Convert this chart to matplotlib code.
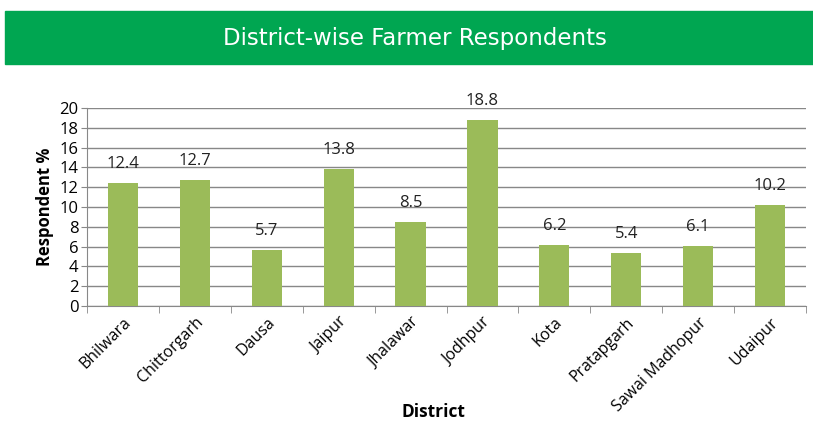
import matplotlib
matplotlib.use("Agg")
from matplotlib import pyplot as plt
from matplotlib.patches import Rectangle
import numpy as np

districts = ["Bhilwara", "Chittorgarh", "Dausa", "Jaipur", "Jhalawar",
             "Jodhpur", "Kota", "Pratapgarh", "Sawai Madhopur", "Udaipur"]
respondents = [12.4, 12.7, 5.7, 13.8, 8.5, 18.8, 6.2, 5.4, 6.1, 10.2]
yticks = [0, 2, 4, 6, 8, 10, 12, 14, 16, 18, 20]

plt.rcParams['font.family'] = ['Open Sans', 'DejaVu Sans']

W, H = 813, 436
fig = plt.figure(figsize=(W / 100, H / 100), dpi=100)

# green title banner
fig.patches.append(Rectangle((5 / W, 1 - 64 / H), 1 - 5 / W, 53 / H,
                             transform=fig.transFigure, color="#00A651", zorder=0))
fig.text(415 / W, 1 - 39 / H, "District-wise Farmer Respondents", color="white",
         fontsize=16.5, family=['DejaVu Sans'], ha="center", va="center")

ax = fig.add_axes([87 / W, 1 - 306 / H, (806 - 87) / W, (306 - 108) / H])
x = np.arange(len(districts))
ax.bar(x, respondents, width=0.42, color="#9BBB59", zorder=3)
for xi, v in zip(x, respondents):
    ax.text(xi, v + 1.1, f"{v}", ha="center", va="bottom", fontsize=12, color="#222222")

ax.set_xlim(-0.5, len(districts) - 0.5)
ax.set_ylim(0, 20)
ax.set_yticks(yticks)
ax.tick_params(axis="y", labelsize=12, length=4, color="#888888", pad=2)
ax.yaxis.grid(True, color="#888888", linewidth=1, zorder=0)
ax.set_axisbelow(True)

ax.set_xticks(x)
ax.set_xticklabels(districts, rotation=45, ha="right", rotation_mode="anchor", fontsize=11.5)
ax.tick_params(axis="x", length=0, pad=6)
ax.set_xticks(np.arange(-0.5, len(districts)), minor=True)
ax.tick_params(axis="x", which="minor", length=5, color="#888888")

for s in ["top", "right"]:
    ax.spines[s].set_visible(False)
for s in ["left", "bottom"]:
    ax.spines[s].set_color("#888888")

ax.set_ylabel("Respondent %", fontsize=12, fontweight="bold", labelpad=4)
fig.text(433 / W, 1 - 412 / H, "District", fontsize=12.5, fontweight="bold",
         ha="center", va="center")

fig.savefig("out.png", dpi=100)
